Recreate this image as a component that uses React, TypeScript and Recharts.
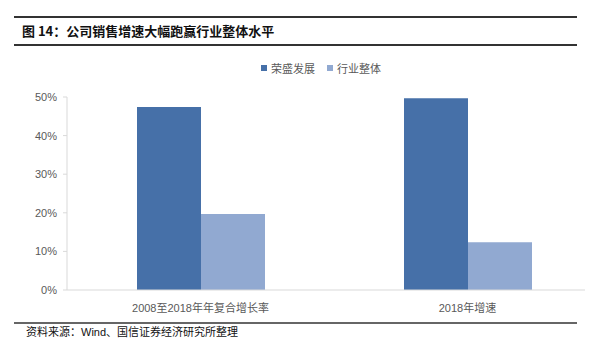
import React from "react";
import { BarChart, Bar, XAxis, YAxis, Legend } from "recharts";

const categories = ["2008至2018年年复合增长率", "2018年增速"];
const companyGrowth = [0.474, 0.497];
const industryGrowth = [0.197, 0.124];
const yTicks = [0, 0.1, 0.2, 0.3, 0.4, 0.5];
const seriesNames = ["荣盛发展", "行业整体"];
const colors = ["#4670A8", "#91A9D1"];

const data = categories.map((name, i) => ({
  name,
  company: companyGrowth[i],
  industry: industryGrowth[i],
}));

const cjk = '"Liberation Sans", Arial, "Noto Sans CJK SC", sans-serif';

function LegendContent() {
  return (
    <div style={{ display: "flex", justifyContent: "center", fontFamily: cjk, fontSize: 11, color: "#595959" }}>
      {seriesNames.map((n, i) => (
        <div key={n} style={{ display: "flex", alignItems: "center", marginRight: i === 0 ? 12 : 0 }}>
          <span style={{ width: 6, height: 6, background: colors[i], display: "inline-block", marginRight: 4 }} />
          <span>{n}</span>
        </div>
      ))}
    </div>
  );
}

export default function App() {
  return (
    <div style={{ position: "absolute", left: 0, top: 0, width: 598, height: 352, background: "#fff", overflow: "hidden" }}>
      <div style={{ position: "absolute", left: 14, top: 16, width: 563, height: 2, background: "#333" }} />
      <div
        style={{
          position: "absolute",
          left: 22,
          top: 22,
          fontFamily: '"Noto Sans CJK SC", sans-serif',
          fontWeight: 700,
          fontSize: 13,
          lineHeight: "18px",
          color: "#111",
        }}
      >
        图 14：公司销售增速大幅跑赢行业整体水平
      </div>
      <div style={{ position: "absolute", left: 14, top: 44, width: 563, height: 2, background: "#333" }} />

      <div style={{ position: "absolute", left: 0, top: 0 }}>
        <BarChart
          width={598}
          height={352}
          data={data}
          margin={{ top: 81, right: 13, bottom: 32, left: 0 }}
          barGap={0}
          barCategoryGap={70}
          style={{ overflow: "visible" }}
        >
          <Legend
            verticalAlign="top"
            content={<LegendContent />}
            wrapperStyle={{ top: 60, left: 22, width: 598 }}
          />
          <XAxis
            dataKey="name"
            height={30}
            padding={{ left: 0, right: -16 }}
            axisLine={{ stroke: "#D9D9D9" }}
            tickLine={false}
            tick={{ fill: "#595959", fontSize: 11, fontFamily: cjk }}
            tickMargin={8}
          />
          <YAxis
            width={67}
            domain={[0, 0.5]}
            ticks={yTicks}
            tickFormatter={(v) => `${Math.round(v * 100)}%`}
            axisLine={{ stroke: "#D9D9D9" }}
            tickLine={{ stroke: "#D9D9D9" }}
            tickSize={4}
            tickMargin={6}
            tick={{ fill: "#595959", fontSize: 11, fontFamily: cjk }}
          />
          <Bar dataKey="company" name={seriesNames[0]} fill={colors[0]} isAnimationActive={false} />
          <Bar dataKey="industry" name={seriesNames[1]} fill={colors[1]} isAnimationActive={false} />
        </BarChart>
      </div>

      <div style={{ position: "absolute", left: 14, top: 322, width: 563, height: 2, background: "#666" }} />
      <div
        style={{
          position: "absolute",
          left: 26,
          top: 325,
          fontFamily: cjk,
          fontSize: 11,
          lineHeight: "14px",
          color: "#111",
        }}
      >
        资料来源：Wind、国信证券经济研究所整理
      </div>
    </div>
  );
}
